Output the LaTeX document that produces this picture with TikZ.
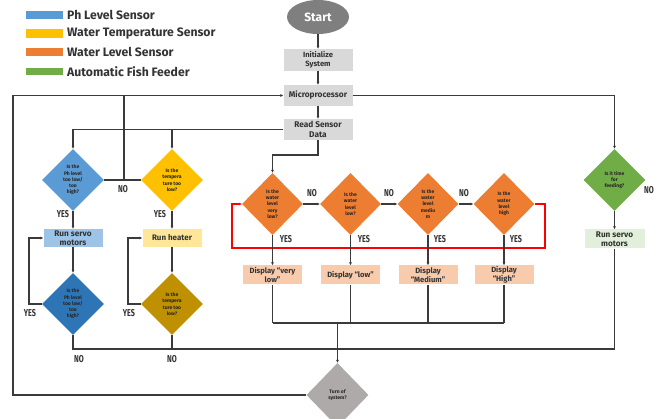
\documentclass[tikz,border=0pt]{standalone}
\usepackage{fontspec}
\setmainfont{Fira Sans}
\usetikzlibrary{shapes.geometric,arrows.meta,calc}
\definecolor{ln}{HTML}{3A3A3A}
\definecolor{txt}{HTML}{333333}
\definecolor{phc}{HTML}{5B9BD5}
\definecolor{phd}{HTML}{2E75B6}
\definecolor{phl}{HTML}{9DC3E6}
\definecolor{tc}{HTML}{FFC000}
\definecolor{td}{HTML}{BF9000}
\definecolor{tl}{HTML}{FFE699}
\definecolor{wc}{HTML}{ED7D31}
\definecolor{wl}{HTML}{F8CBAD}
\definecolor{gc}{HTML}{70AD47}
\definecolor{gl}{HTML}{E2EFDA}
\definecolor{boxg}{HTML}{D9D9D9}
\definecolor{startg}{HTML}{7F7F7F}
\definecolor{turng}{HTML}{AEAAAA}
\tikzset{
  dia/.style={diamond, minimum width=62pt, minimum height=62pt, inner sep=0pt, align=center,
    font=\fontsize{5}{6.3}\selectfont\bfseries, text=black!85},
  pbox/.style={rectangle, minimum width=69pt, minimum height=21pt, inner sep=0pt, align=center,
    fill=boxg, font=\fontsize{8.3}{9.8}\selectfont\bfseries, text=txt},
  sbox/.style={rectangle, minimum width=59pt, minimum height=18pt, inner sep=0pt, align=center,
    font=\fontsize{8.2}{9}\selectfont\bfseries, text=txt},
  dbox/.style={sbox, fill=wl, minimum height=19pt, font=\fontsize{7.6}{9}\selectfont\bfseries},
  conn/.style={draw=ln, line width=1.2pt},
  arr/.style={conn, -{Latex[length=3pt,width=3pt]}},
  yn/.style={font=\fontsize{10}{10}\selectfont\bfseries, text=txt, inner sep=0pt},
  leg/.style={anchor=west, font=\fontsize{12.2}{14}\selectfont\bfseries, text=txt, inner sep=0pt},
}
\newcommand{\cond}[1]{\scalebox{0.72}[1]{#1}}
\begin{document}
\begin{tikzpicture}[x=1pt,y=-1pt]
\useasboundingbox (0,0) rectangle (661,419);
% legend
\fill[phc] (26,11) rectangle (63,19);
\fill[tc] (26,29) rectangle (63,38);
\fill[wc] (26,48) rectangle (63,56);
\fill[gc] (26,68) rectangle (63,75);
\node[leg] (l1) at (67,15) {Ph Level Sensor};
\node[leg] (l2) at (67,33.5) {Water Temperature Sensor};
\node[leg] (l3) at (67,52) {Water Level Sensor};
\node[leg] (l4) at (67,71.5) {Automatic Fish Feeder};
% main column
\node[ellipse, fill=startg, minimum width=62pt, minimum height=34pt, inner sep=0pt,
  text=white, font=\fontsize{12}{12}\selectfont\bfseries] (start) at (318,17) {Start};
\node[pbox, minimum height=22pt, font=\fontsize{7.6}{9.5}\selectfont\bfseries] (init) at (318,60) {Initialize\\System};
\node[pbox] (micro) at (318,95.5) {Microprocessor};
\node[pbox] (read) at (318,129.5) {Read Sensor\\Data};
% ph
\node[dia, fill=phc] (ph1) at (73,180) {Is the\\Ph level\\too low/\\too\\high?};
\node[dia, fill=tc] (t1) at (172,180) {Is the\\tempera\\ture too\\low?};
\node[sbox, fill=phl] (servo1) at (73,238) {Run servo\\motors};
\node[sbox, fill=tl, font=\fontsize{8}{9}\selectfont\bfseries] (heat) at (172,238) {Run heater};
\node[dia, fill=phd] (ph2) at (73,304) {Is the\\Ph level\\too low/\\too\\high?};
\node[dia, fill=td] (t2) at (172,304) {Is the\\tempera\\ture too\\low?};
% water
\node[dia, fill=wc, minimum width=61pt] (w1) at (272.5,204) {Is the\\water\\level\\very\\low?};
\node[dia, fill=wc, minimum width=61pt] (w2) at (350.5,204) {Is the\\water\\level\\low?};
\node[dia, fill=wc, minimum width=61pt] (w3) at (428,204) {Is the\\water\\level\\mediu\\m};
\node[dia, fill=wc, minimum width=61pt] (w4) at (504,204) {Is the\\water\\level\\high};
\node[dbox] (d1) at (272.5,275) {Display “very\\low”};
\node[dbox] (d2) at (350.5,275) {Display “low”};
\node[dbox] (d3) at (428,275) {Display\\“Medium”};
\node[dbox] (d4) at (504,275) {Display\\“High”};
% feeder
\node[dia, fill=gc] (feed) at (614.5,180) {Is it time\\for\\feeding?};
\node[sbox, fill=gl, minimum width=60pt, minimum height=19pt] (servo2) at (614.5,239) {Run servo\\motors};
% turn off
\node[dia, fill=turng, minimum height=64pt] (turn) at (337.5,395) {Turn of\\system?};
% coordinates
\coordinate (tl) at (13,95.5);
\coordinate (bl) at (13,395);
\coordinate (jn) at (124,180);
\coordinate (fr) at (614.5,95.5);
\coordinate (rb) at (318,155);
\coordinate (mg) at (337.5,323);
\coordinate (nb) at (337.5,349);
\coordinate (l1x) at (29,304);
\coordinate (l2x) at (128,304);
\coordinate (rr) at (545,204);
\coordinate (rl) at (232,204);
\coordinate (rby) at (0,248);
% connectors main
\draw[arr] (start) -- (init);
\draw[arr] (init) -- (micro);
\draw[arr] (micro) -- (read);
\draw[arr] (turn.west) -- (bl) -- (tl) -- (micro.west);
\draw[arr] (micro.east) -- (fr) -- (feed.north);
\draw[arr] (feed) -- (servo2);
\draw[conn] (servo2.south) -- (servo2.south |- nb) -- (ph2.south |- nb) -- (ph2.south);
\draw[conn] (t2.south) -- (t2.south |- nb);
% ph / temp
\draw[arr] (read.west) -- (ph1.north |- read.west) -- (ph1.north);
\draw[arr] (t1.north |- read.west) -- (t1.north);
\draw[conn] (ph1.east) -- (t1.west);
\draw[conn] (jn) -- (jn |- micro);
\draw[arr] (ph1) -- (servo1);
\draw[arr] (t1) -- (heat);
\draw[arr] (servo1) -- (ph2);
\draw[arr] (heat) -- (t2);
\draw[arr] (ph2.west) -- (l1x) -- (l1x |- servo1) -- (servo1.west);
\draw[arr] (t2.west) -- (l2x) -- (l2x |- heat) -- (heat.west);
% water
\draw[arr] (read.south) -- (rb) -- (rb -| w1.north) -- (w1.north);
\draw[arr] (w1) -- (w2);
\draw[arr] (w2) -- (w3);
\draw[arr] (w3) -- (w4);
\draw[arr, draw=red] (w4.east) -- (rr) -- (rr |- rby) -- (rl |- rby) -- (rl) -- (w1.west);
\foreach \i in {1,2,3,4}{
  \draw[arr] (w\i) -- (d\i);
  \draw[conn] (d\i.south) -- (d\i.south |- mg);
}
\draw[conn] (d1.south |- mg) -- (d4.south |- mg);
\draw[arr] (mg) -- (turn.north);
% labels
\node[yn] (y1) at (63,214) {\cond{YES}};
\node[yn] (y2) at (160,214) {\cond{YES}};
\node[yn] (y3) at (30,313) {\cond{YES}};
\node[yn] (y4) at (129,313) {\cond{YES}};
\node[yn] (n1) at (123,189) {\cond{NO}};
\node[yn] (n2) at (79,359) {\cond{NO}};
\node[yn] (n3) at (172,359) {\cond{NO}};
\node[yn] (n4) at (312,193) {\cond{NO}};
\node[yn] (n5) at (389,193) {\cond{NO}};
\node[yn] (n6) at (464,193) {\cond{NO}};
\node[yn] (y5) at (286,239) {\cond{YES}};
\node[yn] (y6) at (364,239) {\cond{YES}};
\node[yn] (y7) at (440,239) {\cond{YES}};
\node[yn] (y8) at (516,239) {\cond{YES}};
\node[yn] (n7) at (649,190) {\cond{NO}};
\end{tikzpicture}
\end{document}
